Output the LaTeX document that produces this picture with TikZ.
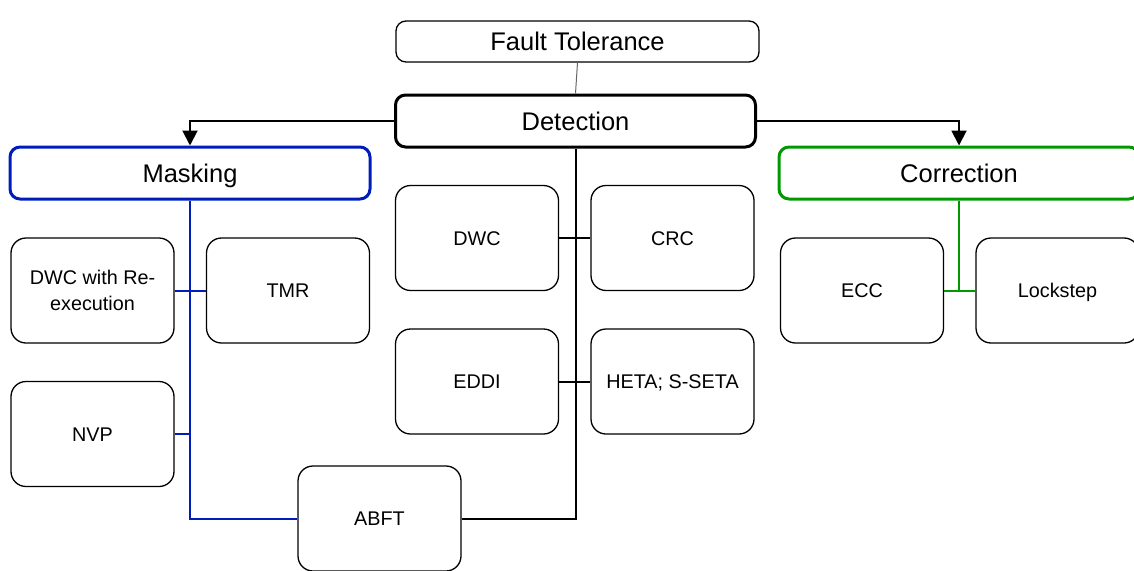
\documentclass[tikz,border=0pt]{standalone}
\usepackage{fontspec}
\setmainfont{Liberation Sans}
\usetikzlibrary{arrows.meta}
\definecolor{maskblue}{HTML}{001DBC}
\definecolor{corrgreen}{HTML}{009900}
\tikzset{
  box/.style={draw=black, fill=white, rounded corners=15pt, line width=1.3pt,
    minimum width=163pt, minimum height=105pt, inner sep=2pt, align=center,
    font=\fontsize{19.8}{26}\selectfont},
  onebox/.style={box, text height=14.2pt, text depth=0pt},
  headbox/.style={draw, fill=white, rounded corners=10pt, line width=3pt,
    minimum width=360pt, minimum height=52pt, inner sep=2pt,
    text height=18.3pt, text depth=0pt,
    font=\fontsize{25.5}{30}\selectfont},
  link/.style={line width=2pt},
  arr/.style={line width=2pt, -{Triangle[width=15pt,length=15pt]}}
}
\begin{document}
\begin{tikzpicture}[x=1pt,y=-1pt]
\useasboundingbox (0,0) rectangle (1134,570);
\clip (0,0) rectangle (1134,570);

% top level
\node[headbox, line width=1.3pt, minimum width=363pt, minimum height=41pt] (ft) at (577.5,41.5) {Fault Tolerance};
\node[headbox, draw=black] (det) at (575.5,121) {Detection};
\node[headbox, draw=maskblue] (mask) at (190,173) {Masking};
\node[headbox, draw=corrgreen] (corr) at (959,173) {Correction};

% masking techniques
\node[box] (dwcre) at (92.5,290.5) {DWC with Re-\\execution};
\node[onebox] (tmr) at (288,290.5) {TMR};
\node[onebox] (nvp) at (92.5,434) {NVP};
\node[onebox] (abft) at (379.5,518.5) {ABFT};

% detection techniques
\node[onebox] (dwc) at (477,238) {DWC};
\node[onebox] (crc) at (672.5,238) {CRC};
\node[onebox] (eddi) at (477,381.5) {EDDI};
\node[onebox] (heta) at (672.5,381.5) {HETA; S-SETA};

% correction techniques
\node[onebox] (ecc) at (862,290.5) {ECC};
\node[onebox] (lock) at (1057.5,290.5) {Lockstep};

% hierarchy links
\draw[line width=1pt, black!60] (ft.south) -- (det.north);
\draw[arr] (det.west) -| (mask.north);
\draw[arr] (det.east) -| (corr.north);

% masking branch
\draw[link, maskblue] (mask.south) |- (abft.west);
\draw[link, maskblue] (dwcre.east) -- (tmr.west);
\draw[link, maskblue] (nvp.east) -- (nvp.east -| mask.south);

% detection branch
\draw[link] (det.south) |- (abft.east);
\draw[link] (dwc.east) -- (crc.west);
\draw[link] (eddi.east) -- (heta.west);

% correction branch
\coordinate (cj) at (corr.south |- ecc.east);
\draw[link, corrgreen] (corr.south) -- (cj);
\draw[link, corrgreen] (ecc.east) -- (lock.west);
\end{tikzpicture}
\end{document}
